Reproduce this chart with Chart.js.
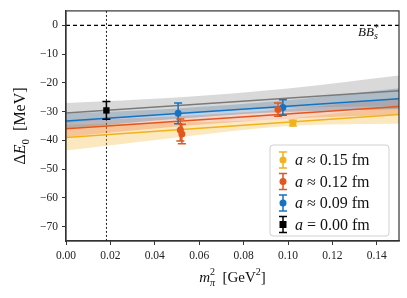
<!DOCTYPE html>
<html>
<head>
<meta charset="utf-8">
<script src="https://cdn.jsdelivr.net/npm/chart.js@4.4.0/dist/chart.umd.min.js"></script>
<style>
  html, body { margin: 0; padding: 0; background: #fff; }
  #wrap { width: 407px; height: 298px; }
</style>
</head>
<body>
<div id="wrap"><canvas id="chart" width="407" height="298"></canvas></div>
<script>
// measured points (m_pi^2 in GeV^2, Delta E_0 in MeV)
const yellowX = [0.1022];
const yellowY = [-34.0];
const yellowErr = [1.0];
const orangeX = [0.0515, 0.0522, 0.0955];
const orangeY = [-36.4, -37.8, -29.3];
const orangeErr = [3.8, 3.4, 2.3];
const blueX = [0.0505, 0.0977];
const blueY = [-30.6, -28.6];
const blueErr = [3.6, 2.7];
const blackX = [0.0182];
const blackY = [-29.6];
const blackErr = [3.1];

// fit lines (values at the two ends)
const lineX = [0, 0.15];
const grayLine = [-30.5, -22.8];
const blueLine = [-33.3, -25.5];
const orangeLine = [-36.0, -28.2];
const yellowLine = [-39.0, -31.0];

// fit bands sampled at a few x values
const bandX = [0, 0.05, 0.10, 0.15];
const grayHi = [-27.0, -25.1, -22.0, -17.5];
const grayLo = [-34.0, -30.7, -28.8, -28.1];
const blueHi = [-30.7, -28.9, -26.1, -21.9];
const blueLo = [-35.9, -32.5, -30.1, -29.1];
const orangeHi = [-33.2, -31.6, -29.1, -25.2];
const orangeLo = [-38.8, -35.2, -32.5, -31.2];
const yellowHi = [-34.5, -33.8, -32.4, -27.8];
const yellowLo = [-43.5, -39.0, -35.0, -34.2];

const physX = 0.0182;
const legendLabels = ['0.15', '0.12', '0.09', '0.00'];

const xTicks = [0, 0.02, 0.04, 0.06, 0.08, 0.10, 0.12, 0.14];
const yTicks = [0, -10, -20, -30, -40, -50, -60, -70];

const YELLOW = '#f0b21e';
const ORANGE = '#e2571e';
const BLUE = '#1473c2';
const BLACK = '#000000';

const serif = '"Liberation Serif", "DejaVu Serif", serif';

const pts = (xs, ys) => xs.map((x, i) => ({ x: x, y: ys[i] }));

const band = (hi, lo, color) => [
  { type: 'line', data: pts(bandX, hi), borderWidth: 0, pointRadius: 0, fill: '+1',
    backgroundColor: color, cubicInterpolationMode: 'monotone', order: 5 },
  { type: 'line', data: pts(bandX, lo), borderWidth: 0, pointRadius: 0, fill: false,
    cubicInterpolationMode: 'monotone', order: 5 }
];

const fitLine = (ys, color) => ({
  type: 'line', data: pts(lineX, ys), borderColor: color, borderWidth: 1.5,
  pointRadius: 0, fill: false, order: 3
});

const scatter = (xs, ys, errs, color, style) => ({
  type: 'scatter', data: pts(xs, ys), errs: errs,
  backgroundColor: color, borderColor: color, pointStyle: style,
  pointRadius: style === 'rect' ? 4.5 : 3.5, borderWidth: 0, order: 1
});

// error bars drawn just before each scatter set
const errorBars = {
  id: 'errorBars',
  beforeDatasetDraw(chart, args) {
    const ds = chart.data.datasets[args.index];
    if (!ds.errs) return;
    const ctx = chart.ctx;
    const xs = chart.scales.x, ys = chart.scales.y;
    ctx.save();
    ctx.strokeStyle = ds.borderColor;
    ctx.lineWidth = 1.5;
    ds.data.forEach((p, i) => {
      const px = xs.getPixelForValue(p.x);
      const top = ys.getPixelForValue(p.y + ds.errs[i]);
      const bot = ys.getPixelForValue(p.y - ds.errs[i]);
      ctx.beginPath();
      ctx.moveTo(px, top); ctx.lineTo(px, bot);
      ctx.moveTo(px - 4, top); ctx.lineTo(px + 4, top);
      ctx.moveTo(px - 4, bot); ctx.lineTo(px + 4, bot);
      ctx.stroke();
    });
    ctx.restore();
  }
};

// text with italic / sub / superscript pieces
function richWidth(ctx, pieces) {
  let w = 0, last = 0;
  pieces.forEach(p => {
    ctx.font = p.font;
    const pw = ctx.measureText(p.t).width;
    if (p.stack) { w += Math.max(0, pw - last); last = Math.max(pw, last); }
    else { w += pw; last = pw; }
  });
  return w;
}
function drawRich(ctx, pieces, x, y) {
  let cx = x, startPrev = x;
  pieces.forEach(p => {
    ctx.font = p.font;
    const pw = ctx.measureText(p.t).width;
    const px = p.stack ? startPrev : cx;
    ctx.fillText(p.t, px, y + (p.dy || 0));
    if (!p.stack) { startPrev = cx; cx += pw; }
    else { cx = Math.max(cx, px + pw); }
  });
}

const it = s => 'italic ' + s + 'px ' + serif;
const rm = s => s + 'px ' + serif;

const decorations = {
  id: 'decorations',
  afterDraw(chart) {
    const ctx = chart.ctx;
    const a = chart.chartArea;
    ctx.save();
    // frame
    ctx.strokeStyle = '#333';
    ctx.lineWidth = 1.2;
    ctx.strokeRect(a.left, a.top, a.right - a.left, a.bottom - a.top);
    ctx.fillStyle = '#111';
    ctx.textBaseline = 'alphabetic';

    // x title
    const xt = [
      { t: 'm', font: it(15) },
      { t: 'π', font: it(10), dy: 4 },
      { t: '2', font: rm(10), dy: -7, stack: true },
      { t: '  [GeV', font: rm(15) },
      { t: '2', font: rm(10), dy: -7 },
      { t: ']', font: rm(15) }
    ];
    const xw = richWidth(ctx, xt);
    drawRich(ctx, xt, (a.left + a.right) / 2 - xw / 2, 282);

    // y title
    const yt = [
      { t: 'Δ', font: rm(16) },
      { t: 'E', font: it(16) },
      { t: '0', font: rm(11), dy: 4 },
      { t: '  [MeV]', font: rm(16) }
    ];
    const yw = richWidth(ctx, yt);
    ctx.save();
    ctx.translate(25, (a.top + a.bottom) / 2);
    ctx.rotate(-Math.PI / 2);
    drawRich(ctx, yt, -yw / 2, 0);
    ctx.restore();

    // threshold label
    const bt = [
      { t: 'BB', font: it(13) },
      { t: '*', font: rm(10), dy: -5 },
      { t: 's', font: it(10), dy: 3, stack: true }
    ];
    const bw = richWidth(ctx, bt);
    drawRich(ctx, bt, a.right - 20 - bw, 36);

    // legend
    const lx = 270, ly = 145, lw = 119, lh = 91;
    ctx.beginPath();
    ctx.roundRect(lx, ly, lw, lh, 3);
    ctx.fillStyle = 'rgba(255,255,255,0.85)';
    ctx.fill();
    ctx.strokeStyle = '#d0d0d0';
    ctx.lineWidth = 1;
    ctx.stroke();
    const colors = [YELLOW, ORANGE, BLUE, BLACK];
    legendLabels.forEach((lab, i) => {
      const cy = ly + 15 + i * 21.5;
      const ix = lx + 13;
      ctx.strokeStyle = colors[i];
      ctx.fillStyle = colors[i];
      ctx.lineWidth = 1.5;
      ctx.beginPath();
      ctx.moveTo(ix, cy - 8); ctx.lineTo(ix, cy + 8);
      ctx.moveTo(ix - 4, cy - 8); ctx.lineTo(ix + 4, cy - 8);
      ctx.moveTo(ix - 4, cy + 8); ctx.lineTo(ix + 4, cy + 8);
      ctx.stroke();
      ctx.beginPath();
      if (i === 3) ctx.rect(ix - 3.5, cy - 3.5, 7, 7);
      else ctx.arc(ix, cy, 3.5, 0, Math.PI * 2);
      ctx.fill();
      ctx.fillStyle = '#111';
      drawRich(ctx, [
        { t: 'a', font: it(16) },
        { t: (i === 3 ? ' = ' : ' ≈ ') + lab + ' fm', font: rm(16) }
      ], ix + 12, cy + 5);
    });
    ctx.restore();
  }
};

const datasets = [
  scatter(yellowX, yellowY, yellowErr, YELLOW, 'circle'),
  scatter(orangeX, orangeY, orangeErr, ORANGE, 'circle'),
  scatter(blueX, blueY, blueErr, BLUE, 'circle'),
  scatter(blackX, blackY, blackErr, BLACK, 'rect'),
  fitLine(grayLine, '#7a7a7a'),
  fitLine(blueLine, BLUE),
  fitLine(orangeLine, ORANGE),
  fitLine(yellowLine, YELLOW),
  ...band(grayHi, grayLo, 'rgba(140,140,140,0.33)'),
  ...band(blueHi, blueLo, 'rgba(40,110,170,0.30)'),
  ...band(orangeHi, orangeLo, 'rgba(226,87,30,0.25)'),
  ...band(yellowHi, yellowLo, 'rgba(245,180,40,0.30)'),
  { type: 'line', data: [{ x: 0, y: 0 }, { x: 0.15, y: 0 }], borderColor: '#000',
    borderWidth: 1.2, borderDash: [4, 3], pointRadius: 0, fill: false, order: 8 },
  { type: 'line', data: [{ x: physX, y: 5 }, { x: physX, y: -75 }], borderColor: '#000',
    borderWidth: 0.9, borderDash: [2, 2], pointRadius: 0, fill: false, order: 8 }
];

const tickFont = { family: serif, size: 11.5 };

new Chart(document.getElementById('chart'), {
  type: 'scatter',
  data: { datasets: datasets },
  plugins: [errorBars, decorations],
  options: {
    responsive: false,
    animation: false,
    layout: { padding: { top: 9, right: 8, left: 0, bottom: 0 } },
    plugins: { legend: { display: false }, tooltip: { enabled: false } },
    scales: {
      x: {
        type: 'linear', min: 0, max: 0.15,
        afterBuildTicks: s => { s.ticks = xTicks.map(v => ({ value: v })); },
        afterFit: s => { s.height = 57; },
        ticks: { font: tickFont, color: '#222', padding: 4, maxRotation: 0,
                 callback: v => v.toFixed(2) },
        grid: { drawOnChartArea: false, drawTicks: true, tickLength: 4, color: '#333' },
        border: { color: '#333', width: 1.2 }
      },
      y: {
        type: 'linear', min: -75, max: 5,
        afterBuildTicks: s => { s.ticks = yTicks.map(v => ({ value: v })); },
        afterFit: s => { s.width = 66; },
        ticks: { font: tickFont, color: '#222', padding: 4,
                 callback: v => (v < 0 ? '\u2212' + Math.abs(v) : String(v)) },
        grid: { drawOnChartArea: false, drawTicks: true, tickLength: 4, color: '#333' },
        border: { color: '#333', width: 1.2 }
      }
    }
  }
});
</script>
</body>
</html>
